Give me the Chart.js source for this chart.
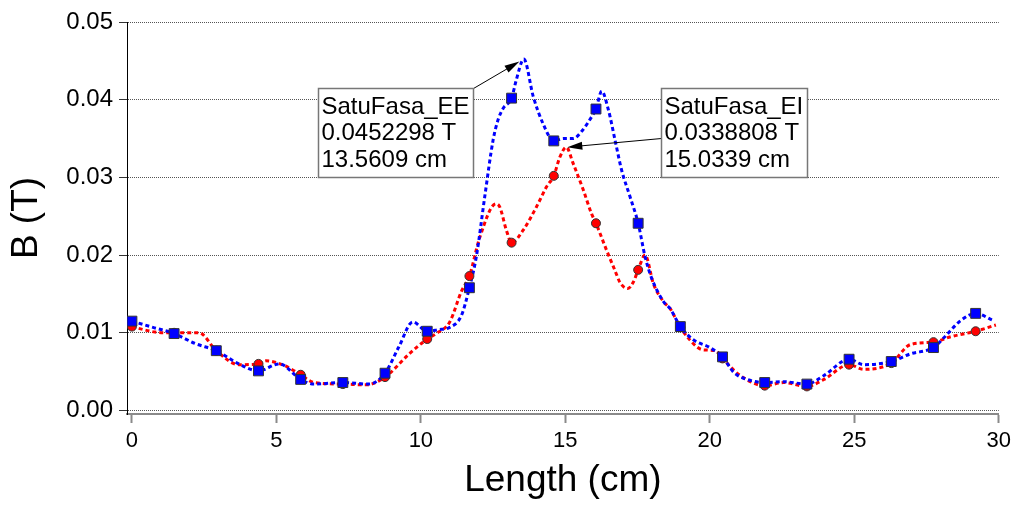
<!DOCTYPE html>
<html lang="id">
<head>
    <meta charset="UTF-8">
    <title>B (T) vs Length (cm)</title>
    <style>
        body { margin: 0; background: #fff; }
        .chart-container { width: 1016px; height: 506px; }
    </style>
</head>
<body>
    <div class="chart-container">
        <canvas id="myChart" width="1016" height="506"></canvas>
    </div>

    <script src="https://cdn.jsdelivr.net/npm/chart.js"></script>

    <script>
        // marker positions (cm) and values (T)
        var markerX = [0, 1.46, 2.92, 4.38, 5.84, 7.3, 8.76, 10.22, 11.68, 13.14, 14.6, 16.06, 17.52, 18.98, 20.44, 21.9, 23.36, 24.82, 26.28, 27.74, 29.2];
        var eeMarkers = [0.0115, 0.0099, 0.0077, 0.0051, 0.0040, 0.0036, 0.0048, 0.0102, 0.0158, 0.0402, 0.0347, 0.0388, 0.0241, 0.0108, 0.0069, 0.0036, 0.0034, 0.0066, 0.0063, 0.0081, 0.0125];
        var eiMarkers = [0.0108, 0.0100, 0.0077, 0.0060, 0.0046, 0.0034, 0.0043, 0.0092, 0.0173, 0.0216, 0.0302, 0.0241, 0.0181, 0.0107, 0.0067, 0.0032, 0.0031, 0.0059, 0.0061, 0.0088, 0.0102];

        // the dotted curves
        var eeCurveX = [0, 0.73, 1.46, 2.2, 2.92, 3.7, 4.38, 5.1, 5.84, 6.3, 7.3, 8.2, 8.76, 9.24, 9.72, 10.22, 10.6, 11.0, 11.4, 11.68, 11.92, 12.21, 12.5, 12.67, 12.85, 13.14, 13.3, 13.5609, 13.89, 14.23, 14.6, 14.93, 15.27, 15.56, 15.91, 16.06, 16.26, 16.49, 16.72, 16.95, 17.24, 17.52, 17.76, 17.99, 18.4, 18.63, 18.98, 19.43, 20.0, 20.44, 20.83, 21.29, 21.9, 22.56, 23.36, 23.95, 24.82, 25.33, 26.28, 26.95, 27.74, 28.11, 28.69, 29.2, 29.8];
        var eeCurveB = [0.0115, 0.0107, 0.0099, 0.0086, 0.0077, 0.0060, 0.0051, 0.0060, 0.0040, 0.0034, 0.0036, 0.0034, 0.0048, 0.0082, 0.0114, 0.0102, 0.0104, 0.0107, 0.0122, 0.0158, 0.0198, 0.0275, 0.0348, 0.0374, 0.0389, 0.0402, 0.0425, 0.0452298, 0.0404, 0.0369, 0.0347, 0.0350, 0.0350, 0.0359, 0.0378, 0.0388, 0.0411, 0.0387, 0.0348, 0.0309, 0.0275, 0.0241, 0.0198, 0.0170, 0.0140, 0.0131, 0.0108, 0.0091, 0.0081, 0.0069, 0.0049, 0.0040, 0.0036, 0.0037, 0.0034, 0.0045, 0.0066, 0.0059, 0.0063, 0.0073, 0.0081, 0.0094, 0.0116, 0.0125, 0.0116];

        var eiCurveX = [0, 0.8, 1.46, 2.32, 2.92, 3.7, 4.38, 4.64, 5.27, 5.84, 6.3, 7.3, 8.1, 8.76, 9.6, 10.22, 10.53, 11.0, 11.4, 11.68, 12.04, 12.6, 12.73, 12.96, 13.14, 13.54, 14.0, 14.35, 14.6, 14.81, 15.0339, 15.27, 15.62, 15.91, 16.06, 16.43, 16.72, 16.89, 17.16, 17.35, 17.52, 17.76, 18.05, 18.4, 18.63, 18.98, 19.55, 19.78, 20.19, 20.44, 21.05, 21.9, 22.56, 23.36, 23.95, 24.82, 25.33, 26.28, 26.95, 27.74, 28.34, 29.2, 29.9];
        var eiCurveB = [0.0108, 0.0101, 0.0100, 0.0100, 0.0077, 0.0059, 0.0060, 0.0064, 0.0058, 0.0046, 0.0036, 0.0034, 0.0033, 0.0043, 0.0073, 0.0092, 0.0099, 0.0114, 0.0153, 0.0173, 0.0223, 0.0266, 0.0262, 0.0232, 0.0216, 0.0232, 0.0262, 0.0288, 0.0302, 0.0326, 0.0338808, 0.0318, 0.0284, 0.0253, 0.0241, 0.0206, 0.0180, 0.0165, 0.0157, 0.0165, 0.0181, 0.0200, 0.0163, 0.0140, 0.0131, 0.0107, 0.0082, 0.0078, 0.0077, 0.0067, 0.0045, 0.0032, 0.0036, 0.0031, 0.0040, 0.0059, 0.0053, 0.0061, 0.0085, 0.0088, 0.0095, 0.0102, 0.0110];

        var xTicks = [0, 5, 10, 15, 20, 25, 30];
        var yTicks = [0, 0.01, 0.02, 0.03, 0.04, 0.05];

        // callouts: point, label lines, box top-left (data units)
        var callouts = [
            { x: 13.5609, b: 0.0452298, lines: ['SatuFasa_EE', '0.0452298 T', '13.5609 cm'], boxX: 6.45, boxB: 0.04156, side: 'right', gap: 5 },
            { x: 15.0339, b: 0.0338808, lines: ['SatuFasa_EI', '0.0338808 T', '15.0339 cm'], boxX: 18.32, boxB: 0.04156, side: 'left', gap: 1 }
        ];

        function toPoints(xs, ys) {
            return xs.map(function (x, i) { return { x: x, y: ys[i] }; });
        }

        var fontFamily = 'Arial, "Liberation Sans", sans-serif';
        Chart.defaults.font.family = fontFamily;
        Chart.defaults.color = '#000';

        var calloutPlugin = {
            id: 'callouts',
            afterDatasetsDraw: function (chart) {
                var ctx = chart.ctx;
                var xs = chart.scales.x, ys = chart.scales.y;
                callouts.forEach(function (c) {
                    ctx.save();
                    ctx.font = '24px ' + fontFamily;
                    var w = 0;
                    c.lines.forEach(function (l) { w = Math.max(w, ctx.measureText(l).width); });
                    var left = Math.round(xs.getPixelForValue(c.boxX)) + 0.5;
                    var top = Math.round(ys.getPixelForValue(c.boxB)) + 0.5;
                    var bw = Math.round(w + 7), bh = 89;

                    var px = xs.getPixelForValue(c.x), py = ys.getPixelForValue(c.b);
                    var sx = c.side === 'right' ? left + bw : left;
                    var sy = c.side === 'right' ? top : top + 50;
                    var ang = Math.atan2(py - sy, px - sx);
                    var cs = Math.cos(ang), sn = Math.sin(ang);
                    var tx = px - cs * c.gap, ty = py - sn * c.gap;

                    ctx.strokeStyle = '#000';
                    ctx.lineWidth = 1;
                    ctx.beginPath();
                    ctx.moveTo(sx, sy);
                    ctx.lineTo(tx - cs * 12, ty - sn * 12);
                    ctx.stroke();
                    ctx.fillStyle = '#000';
                    ctx.beginPath();
                    ctx.moveTo(tx, ty);
                    ctx.lineTo(tx - cs * 15 + sn * 4, ty - sn * 15 - cs * 4);
                    ctx.lineTo(tx - cs * 15 - sn * 4, ty - sn * 15 + cs * 4);
                    ctx.closePath();
                    ctx.fill();

                    ctx.fillStyle = '#fff';
                    ctx.fillRect(left, top, bw, bh);
                    ctx.strokeStyle = '#777';
                    ctx.lineWidth = 1.5;
                    ctx.strokeRect(left, top, bw, bh);

                    ctx.fillStyle = '#000';
                    ctx.textBaseline = 'alphabetic';
                    c.lines.forEach(function (l, i) {
                        ctx.fillText(l, left + 3, top + 25 + i * 26.5);
                    });
                    ctx.restore();
                });
            }
        };

        var ctx = document.getElementById('myChart').getContext('2d');
        var myChart = new Chart(ctx, {
            type: 'scatter',
            data: {
                datasets: [
                    {
                        label: 'SatuFasa_EE',
                        data: toPoints(markerX, eeMarkers),
                        pointStyle: 'rect',
                        pointRadius: 7,
                        backgroundColor: '#0000ff',
                        borderColor: '#333',
                        borderWidth: 1,
                        showLine: false,
                        order: 0
                    },
                    {
                        label: 'SatuFasa_EI',
                        data: toPoints(markerX, eiMarkers),
                        pointStyle: 'circle',
                        pointRadius: 4.5,
                        backgroundColor: '#ff0000',
                        borderColor: '#333',
                        borderWidth: 1,
                        showLine: false,
                        order: 1
                    },
                    {
                        label: 'SatuFasa_EE curve',
                        data: toPoints(eeCurveX, eeCurveB),
                        showLine: true,
                        pointRadius: 0,
                        borderColor: '#0000ff',
                        borderWidth: 3,
                        borderDash: [4, 3],
                        cubicInterpolationMode: 'monotone',
                        order: 2
                    },
                    {
                        label: 'SatuFasa_EI curve',
                        data: toPoints(eiCurveX, eiCurveB),
                        showLine: true,
                        pointRadius: 0,
                        borderColor: '#ff0000',
                        borderWidth: 3,
                        borderDash: [4, 3],
                        cubicInterpolationMode: 'monotone',
                        order: 3
                    }
                ]
            },
            options: {
                responsive: false,
                animation: false,
                layout: { padding: { top: 22, right: 17, left: 0, bottom: 0 } },
                plugins: {
                    legend: { display: false },
                    tooltip: { enabled: false }
                },
                scales: {
                    x: {
                        type: 'linear',
                        min: -0.17,
                        max: 30,
                        afterBuildTicks: function (scale) {
                            scale.ticks = xTicks.map(function (v) { return { value: v }; });
                        },
                        afterFit: function (scale) { scale.height = 92; },
                        ticks: {
                            font: { size: 22 },
                            padding: 5,
                            maxRotation: 0,
                            callback: function (v) { return v; }
                        },
                        grid: {
                            drawOnChartArea: false,
                            drawTicks: true,
                            tickLength: 9,
                            tickColor: '#8a8a8a',
                            tickWidth: 2
                        },
                        border: { color: '#8a8a8a', width: 2 },
                        title: {
                            display: true,
                            text: 'Length (cm)',
                            font: { size: 37 },
                            padding: { top: 0, bottom: 3 }
                        }
                    },
                    y: {
                        min: -0.00045,
                        max: 0.05,
                        afterBuildTicks: function (scale) {
                            scale.ticks = yTicks.map(function (v) { return { value: v }; });
                        },
                        afterFit: function (scale) { scale.width = 127; },
                        ticks: {
                            font: { size: 24 },
                            padding: 6,
                            callback: function (v) { return v.toFixed(2); }
                        },
                        grid: {
                            color: '#555',
                            lineWidth: 1,
                            tickLength: 8,
                            tickColor: '#333'
                        },
                        border: { color: '#000', width: 1, dash: [1, 1] },
                        title: {
                            display: true,
                            text: 'B (T)',
                            font: { size: 37 },
                            padding: { top: 5, bottom: 0 }
                        }
                    }
                }
            },
            plugins: [calloutPlugin]
        });
    </script>
</body>
</html>
